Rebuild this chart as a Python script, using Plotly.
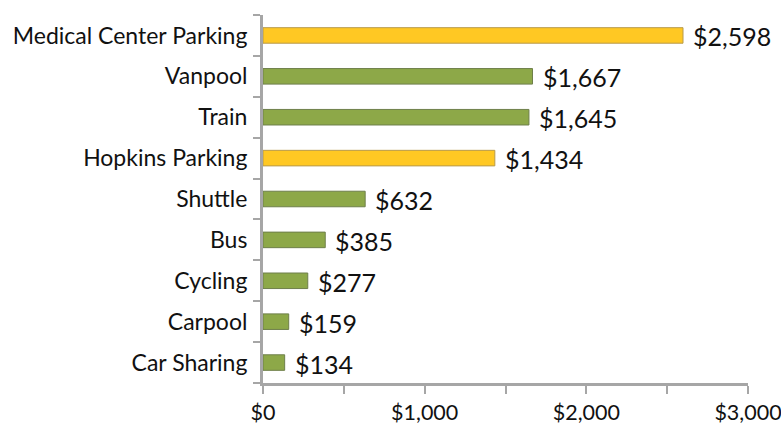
import plotly.graph_objects as go

categories = ["Medical Center Parking", "Vanpool", "Train", "Hopkins Parking",
              "Shuttle", "Bus", "Cycling", "Carpool", "Car Sharing"]
values = [2598, 1667, 1645, 1434, 632, 385, 277, 159, 134]
is_parking = [True, False, False, True, False, False, False, False, False]
tick_vals = [0, 1000, 2000, 3000]
tick_text = ["$0", "$1,000", "$2,000", "$3,000"]

colors = ["#FFC823" if p else "#8DA848" for p in is_parking]
edges = ["#B89A4A" if p else "#6E7F4A" for p in is_parking]
labels = [f"${v:,}" for v in values]

fig = go.Figure(go.Bar(
    x=values, y=categories, orientation="h",
    marker=dict(color=colors, line=dict(color=edges, width=1)),
    cliponaxis=False,
))

# value labels just right of each bar end
for cat, v, lab in zip(categories, values, labels):
    fig.add_annotation(x=v, y=cat, text=lab, showarrow=False,
                       xanchor="left", xshift=8, yshift=-1,
                       font=dict(size=25, color="#111111", family="Lato"))

axis_color = "#A6A6A6"
fig.update_layout(
    width=781, height=425,
    margin=dict(l=263, r=33, t=15, b=42),
    paper_bgcolor="white", plot_bgcolor="white",
    bargap=0.62, showlegend=False,
    font=dict(family="Lato", color="#111111"),
    xaxis=dict(range=[0, 3000], tickvals=tick_vals, ticktext=tick_text,
               automargin=False, ticklabeloverflow="allow",
               showgrid=False, zeroline=False, showline=True,
               linecolor=axis_color, linewidth=3, ticks="outside",
               ticklen=8, tickwidth=2, tickcolor=axis_color,
               ticklabelstandoff=0,
               tickfont=dict(size=21.5),
               minor=dict(tickvals=[500, 1500, 2500], ticks="outside",
                          ticklen=8, tickwidth=2, tickcolor=axis_color)),
    yaxis=dict(categoryorder="array", categoryarray=categories[::-1],
               automargin=False,
               showgrid=False, showline=True, linecolor=axis_color,
               linewidth=3, ticks="outside", tickson="boundaries",
               ticklen=7, tickwidth=2, tickcolor=axis_color,
               ticklabelstandoff=8,
               tickfont=dict(size=23)),
)

fig.write_html("out.html")
